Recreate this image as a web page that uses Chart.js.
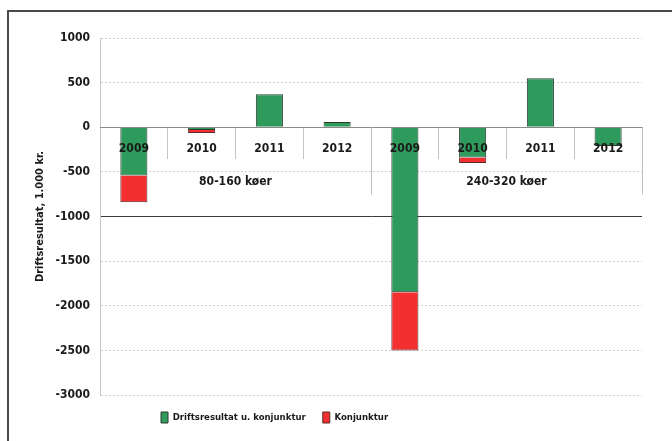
<!DOCTYPE html>
<html>
<head>
<meta charset="utf-8">
<script src="https://cdn.jsdelivr.net/npm/chart.js@4.4.0/dist/chart.umd.min.js"></script>
<style>
  html, body { margin: 0; padding: 0; background: #fff; }
  #wrap { position: relative; width: 672px; height: 441px; overflow: hidden; }
  #frame { position: absolute; left: 7px; top: 10px; right: -5px; bottom: -5px;
           border-top: 2px solid #4a4a4a; border-left: 2px solid #4a4a4a; }
  canvas { position: absolute; left: 0; top: 0; }
</style>
</head>
<body>
<div id="wrap"><div id="frame"></div><canvas id="chart" width="672" height="441"></canvas></div>
<script>
// data
const years = ['2009', '2010', '2011', '2012', '2009', '2010', '2011', '2012'];
const groups = ['80-160 køer', '240-320 køer'];
const driftsresultat = [-540, -30, 370, 60, -1850, -340, 550, -210];
const konjunktur = [-300, -35, null, null, -650, -60, null, null];
const yTicks = [1000, 500, 0, -500, -1000, -1500, -2000, -2500, -3000];

const FONT = "'Liberation Sans Narrow', 'DejaVu Sans Condensed', 'Liberation Sans', sans-serif";
const TEXT = '#1a1a1a';

// second level of the category axis: group names + long separators
const groupLabels = {
  id: 'groupLabels',
  afterDraw(chart) {
    const { ctx, chartArea, scales: { x, y } } = chart;
    const y0 = y.getPixelForValue(0);
    const per = years.length / groups.length;
    ctx.save();
    ctx.strokeStyle = '#bdbdbd';
    ctx.lineWidth = 1;
    ctx.fillStyle = TEXT;
    ctx.font = 'bold 12px ' + FONT;
    ctx.textAlign = 'center';
    ctx.textBaseline = 'middle';
    groups.forEach((g, i) => {
      const first = i * per, last = first + per - 1;
      const left = i === 0 ? chartArea.left
        : (x.getPixelForValue(first - 1) + x.getPixelForValue(first)) / 2;
      const right = i === groups.length - 1 ? chartArea.right
        : (x.getPixelForValue(last) + x.getPixelForValue(last + 1)) / 2;
      const xr = Math.round(right) + 0.5;
      ctx.beginPath();
      ctx.moveTo(xr, y0);
      ctx.lineTo(xr, y0 + 67);
      ctx.stroke();
      ctx.fillText(g, (left + right) / 2, y0 + 55);
    });
    ctx.restore();
  }
};

// nudge the legend to where the original puts it
const legendShift = {
  id: 'legendShift',
  afterLayout(chart) {
    const lg = chart.legend;
    if (!lg) return;
    const w = lg.right - lg.left;
    lg.left = 144;
    lg.right = lg.left + w;
  }
};

new Chart(document.getElementById('chart'), {
  type: 'bar',
  data: {
    labels: years,
    datasets: [
      {
        label: 'Driftsresultat u. konjunktur',
        data: driftsresultat,
        backgroundColor: '#2e9a5b',
        borderColor: '#2c3b30',
        borderWidth: 1
      },
      {
        label: 'Konjunktur',
        data: konjunktur,
        backgroundColor: '#f42f2f',
        borderColor: '#5a2a2a',
        borderWidth: 1
      }
    ]
  },
  options: {
    responsive: false,
    animation: false,
    categoryPercentage: 0.8,
    barPercentage: 0.5,
    layout: { padding: { left: 28, right: 30, top: 38, bottom: 8 } },
    plugins: {
      legend: {
        position: 'bottom',
        align: 'start',
        labels: {
          boxWidth: 7,
          boxHeight: 11,
          padding: 17,
          color: TEXT,
          font: { family: FONT, size: 9.5, weight: 'bold' }
        }
      },
      tooltip: { enabled: false }
    },
    scales: {
      x: {
        type: 'category',
        stacked: true,
        position: { y: 0 },
        grid: {
          offset: true,
          drawOnChartArea: false,
          drawTicks: true,
          tickLength: 31,
          color: '#c4c4c4',
          z: 1
        },
        border: { color: '#8a8a8a', width: 1, z: 1 },
        ticks: {
          padding: -17,
          z: 1,
          color: TEXT,
          font: { family: FONT, size: 12, weight: 'bold' }
        }
      },
      y: {
        stacked: true,
        min: -3000,
        max: 1000,
        afterBuildTicks: s => { s.ticks = yTicks.map(v => ({ value: v })); },
        afterFit: s => { s.width = 72; },
        grid: {
          drawTicks: false,
          color: c => (c.tick && c.tick.value === -1000) ? '#3a3a3a' : '#cfcfcf'
        },
        border: {
          color: '#c8c8c8',
          dash: c => (c.tick && c.tick.value === -1000) ? [] : [2, 2]
        },
        ticks: {
          padding: 10,
          color: TEXT,
          callback: v => String(v),
          font: { family: FONT, size: 12, weight: 'bold' }
        },
        title: {
          display: true,
          text: 'Driftsresultat, 1.000 kr.',
          color: TEXT,
          padding: { top: 6, bottom: 0 },
          font: { family: FONT, size: 11, weight: 'bold' }
        }
      }
    }
  },
  plugins: [groupLabels, legendShift]
});
</script>
</body>
</html>
